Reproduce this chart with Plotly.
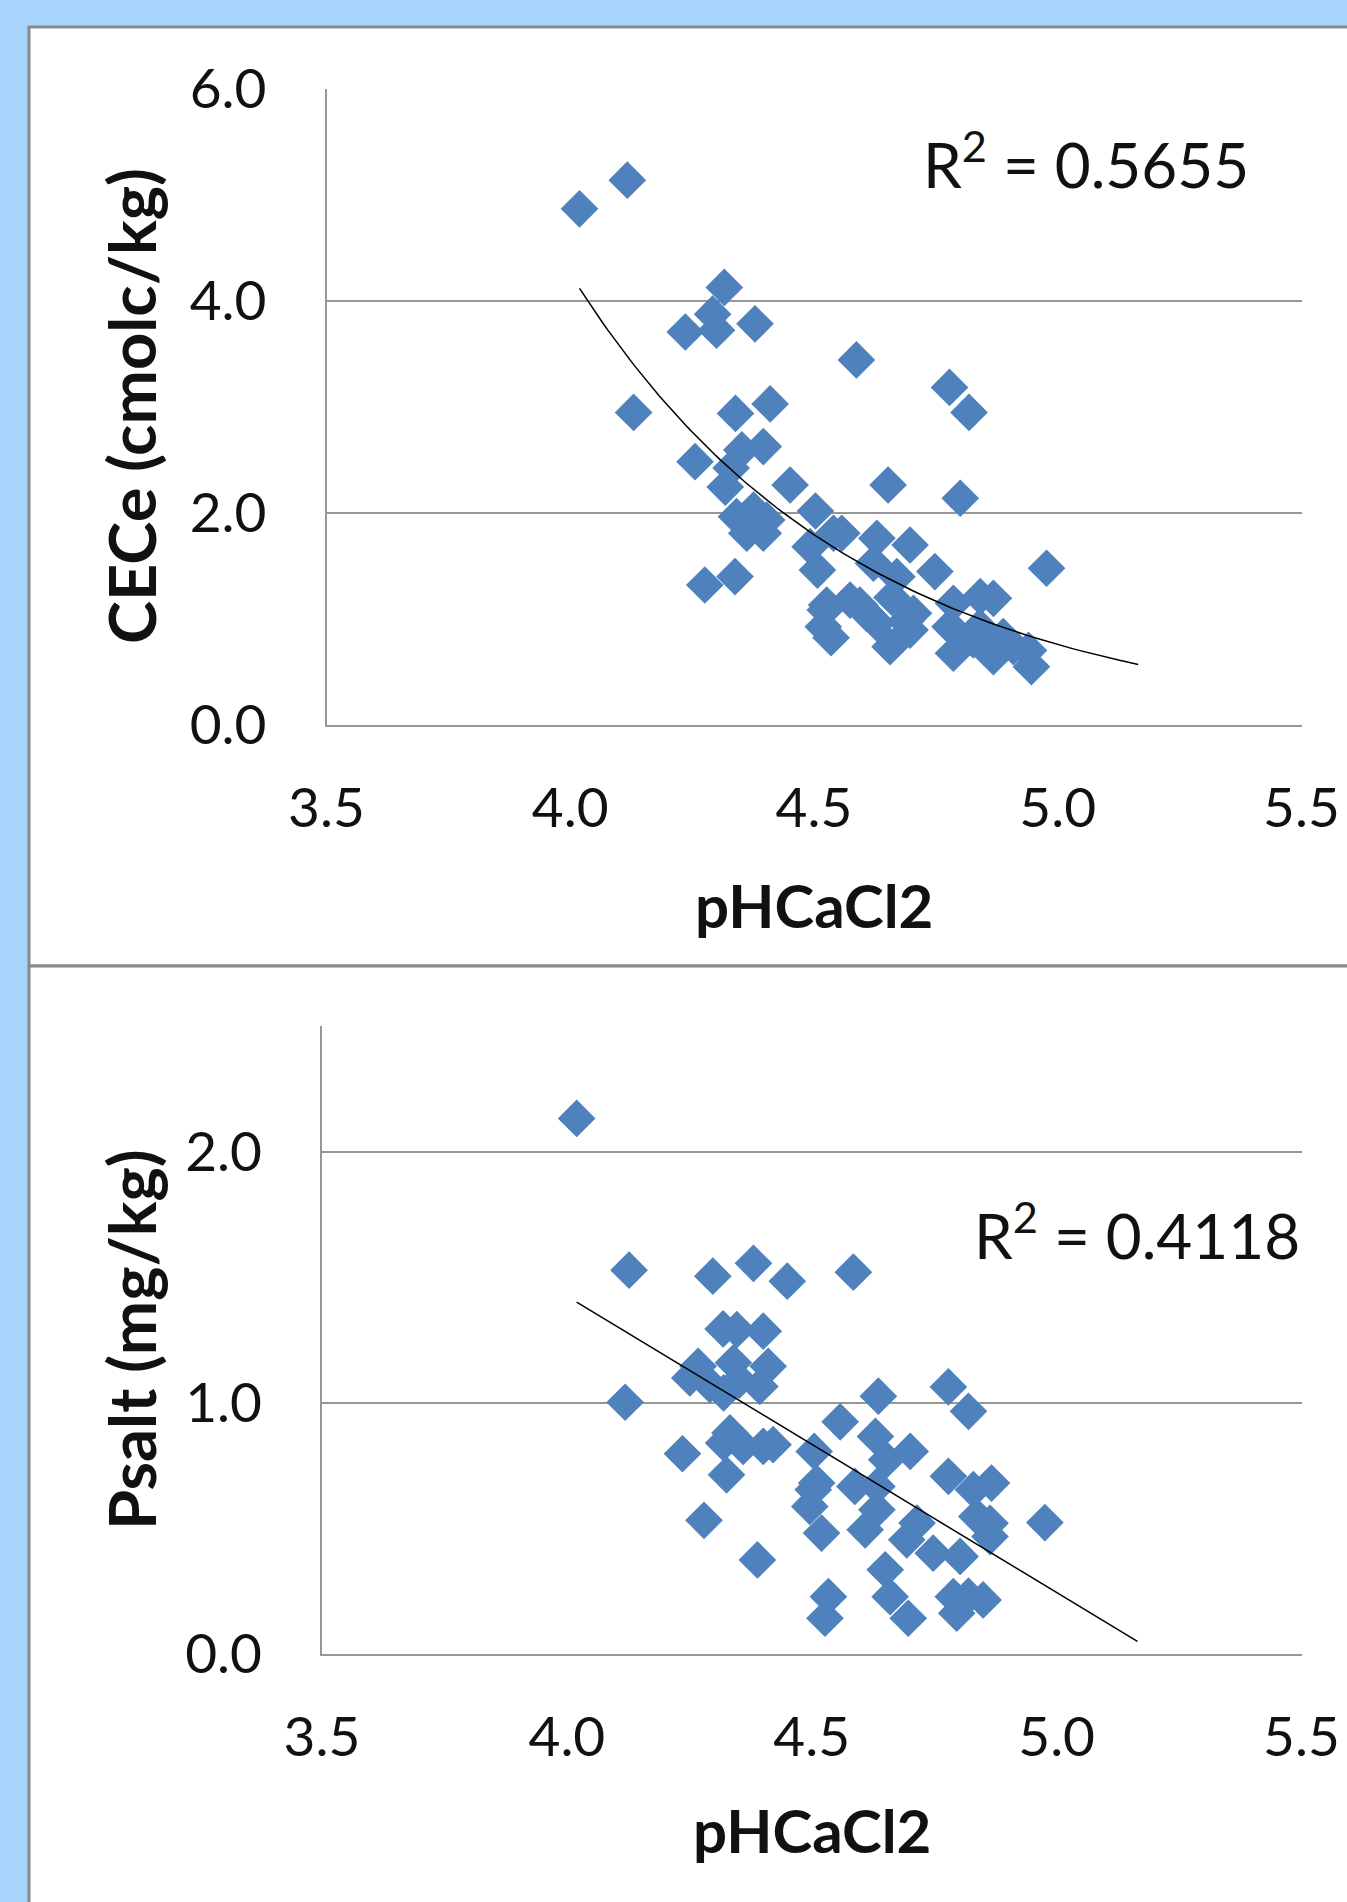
import numpy as np
import plotly.graph_objects as go

# ---------------- data ----------------
cec_ph = [4.019, 4.117, 4.316, 4.292, 4.236, 4.300, 4.379, 4.587, 4.778, 4.818,
          4.130, 4.339, 4.410, 4.256, 4.352, 4.396, 4.318, 4.330, 4.451, 4.341,
          4.376, 4.403, 4.362, 4.396, 4.503, 4.540, 4.492, 4.507, 4.276, 4.338,
          4.526, 4.574, 4.519, 4.535, 4.608, 4.652, 4.800, 4.557, 4.629, 4.697,
          4.622, 4.670, 4.748, 4.977, 4.523, 4.594, 4.629, 4.656, 4.704, 4.697,
          4.660, 4.786, 4.841, 4.868, 4.786, 4.827, 4.868, 4.909, 4.946, 4.940,
          4.779, 4.840, 4.888, 4.688]
cec_val = [4.865, 5.135, 4.124, 3.871, 3.703, 3.720, 3.780, 3.440, 3.180, 2.945,
           2.945, 2.935, 3.025, 2.480, 2.591, 2.622, 2.240, 2.420, 2.260, 1.961,
           2.024, 1.930, 1.805, 1.805, 2.015, 1.805, 1.678, 1.458, 1.317, 1.396,
           1.128, 1.175, 0.924, 0.820, 1.050, 2.260, 2.135, 1.805, 1.757, 1.694,
           1.522, 1.395, 1.443, 1.475, 1.081, 1.128, 0.956, 0.735, 1.050, 0.892,
           1.200, 1.144, 1.207, 1.191, 0.673, 0.798, 0.641, 0.735, 0.546, 0.700,
           0.924, 0.920, 0.829, 0.974]

psalt_ph = [4.020, 4.127, 4.298, 4.381, 4.450, 4.585, 4.119, 4.319, 4.347, 4.401,
            4.268, 4.251, 4.292, 4.340, 4.352, 4.411, 4.394, 4.320, 4.333, 4.360,
            4.320, 4.401, 4.421, 4.236, 4.326, 4.558, 4.505, 4.510, 4.636, 4.779,
            4.820, 4.630, 4.653, 4.701, 4.779, 4.830, 4.867, 4.503, 4.496, 4.520,
            4.588, 4.633, 4.609, 4.633, 4.694, 4.715, 4.748, 4.803, 4.837, 4.864,
            4.864, 4.976, 4.650, 4.660, 4.534, 4.527, 4.697, 4.789, 4.796, 4.850,
            4.820, 4.389, 4.280]
psalt_val = [2.132, 1.528, 1.504, 1.555, 1.484, 1.520, 1.002, 1.294, 1.291, 1.285,
             1.145, 1.099, 1.072, 1.159, 1.090, 1.145, 1.065, 1.039, 0.880, 0.826,
             0.840, 0.826, 0.833, 0.797, 0.713, 0.924, 0.806, 0.680, 1.026, 1.063,
             0.966, 0.866, 0.773, 0.806, 0.707, 0.654, 0.680, 0.654, 0.587, 0.481,
             0.667, 0.667, 0.494, 0.574, 0.454, 0.521, 0.401, 0.388, 0.547, 0.467,
             0.520, 0.523, 0.335, 0.228, 0.228, 0.142, 0.142, 0.228, 0.162, 0.215,
             0.230, 0.374, 0.532]

x_ticks = [3.5, 4.0, 4.5, 5.0, 5.5]
cec_ticks = [0.0, 2.0, 4.0, 6.0]
psalt_ticks = [0.0, 1.0, 2.0]
trend_end = 5.165          # trendline drawn forward to this pH
r2_labels = ["R<sup>2</sup> = 0.5655", "R<sup>2</sup> = 0.4118"]
x_title = "pHCaCl2"
y_titles = ["CECe (cmolc/kg)", "Psalt (mg/kg)"]

# ---------------- trendlines (fitted, as the spreadsheet does) ----------------
cx = np.array(cec_ph); cy = np.array(cec_val)
b, ln_a = np.polyfit(cx, np.log(cy), 1)
tx1 = np.linspace(cx.min(), trend_end, 120)
ty1 = np.exp(ln_a) * np.exp(b * tx1)

px_ = np.array(psalt_ph); py_ = np.array(psalt_val)
m, c = np.polyfit(px_, py_, 1)
tx2 = np.array([px_.min(), trend_end])
ty2 = m * tx2 + c

# ---------------- figure ----------------
W, H = 1347, 1902
def px(x): return x / W
def py(y): return 1 - y / H

BLUE = "#4F81BD"
GRID = "#979797"
FONT = "Lato"
TXT = "#111111"

fig = go.Figure()
fig.add_trace(go.Scatter(x=cec_ph, y=cec_val, mode="markers",
                         marker=dict(symbol="diamond", size=29, color=BLUE, line=dict(width=0)),
                         xaxis="x", yaxis="y", showlegend=False))
fig.add_trace(go.Scatter(x=tx1, y=ty1, mode="lines", line=dict(color="black", width=1.5),
                         xaxis="x", yaxis="y", showlegend=False))
fig.add_trace(go.Scatter(x=psalt_ph, y=psalt_val, mode="markers",
                         marker=dict(symbol="diamond", size=29, color=BLUE, line=dict(width=0)),
                         xaxis="x2", yaxis="y2", showlegend=False))
fig.add_trace(go.Scatter(x=tx2, y=ty2, mode="lines", line=dict(color="black", width=1.5),
                         xaxis="x2", yaxis="y2", showlegend=False))

tickfont = dict(family=FONT, size=55, color=TXT)
xcommon = dict(range=[3.5, 5.5], tickvals=x_ticks, ticktext=[f"{v:.1f}" for v in x_ticks],
               showgrid=False, zeroline=False, showline=True, linecolor=GRID, linewidth=2,
               ticks="", tickfont=tickfont, ticklabelstandoff=34, automargin=False)
ycommon = dict(showgrid=True, gridcolor=GRID, gridwidth=2, zeroline=False, showline=True,
               linecolor=GRID, linewidth=2, ticks="", tickfont=tickfont, ticklabelstandoff=47,
               automargin=False)

fig.update_layout(
    width=W, height=H, autosize=False,
    margin=dict(l=0, r=0, t=0, b=0, pad=0, autoexpand=False),
    paper_bgcolor="#A7D4FD", plot_bgcolor="rgba(0,0,0,0)",
    xaxis=dict(domain=[px(326.5), px(1301.5)], anchor="y", **xcommon),
    yaxis=dict(domain=[py(724.6), py(88.5)], anchor="x", range=[0, 6], tickvals=cec_ticks,
               ticktext=[f"{v:.1f}" for v in cec_ticks], **ycommon),
    xaxis2=dict(domain=[px(322), px(1301.5)], anchor="y2", **xcommon),
    yaxis2=dict(domain=[py(1653.9), py(1026)], anchor="x2", range=[0, 2.5], tickvals=psalt_ticks,
                ticktext=[f"{v:.1f}" for v in psalt_ticks], **ycommon),
)

# panels
fig.add_shape(type="rect", xref="paper", yref="paper", x0=px(29), x1=1.02, y0=py(966), y1=py(27),
              fillcolor="white", line=dict(color="#8A8A8A", width=3), layer="below")
fig.add_shape(type="rect", xref="paper", yref="paper", x0=px(29), x1=1.02, y0=-0.02, y1=py(966),
              fillcolor="white", line=dict(color="#8A8A8A", width=3), layer="below")

# titles
tfont = dict(family=FONT, size=60, color=TXT)
yfont = dict(family=FONT, size=65, color=TXT)
fig.add_annotation(text=f"<b>{x_title}</b>", xref="paper", yref="paper", x=px(814), y=py(905),
                   showarrow=False, font=tfont, xanchor="center", yanchor="middle")
fig.add_annotation(text=f"<b>{x_title}</b>", xref="paper", yref="paper", x=px(812), y=py(1830),
                   showarrow=False, font=tfont, xanchor="center", yanchor="middle")
fig.add_annotation(text=f"<b>{y_titles[0]}</b>", xref="paper", yref="paper", x=px(131), y=py(406),
                   showarrow=False, font=yfont, textangle=-90, xanchor="center", yanchor="middle")
fig.add_annotation(text=f"<b>{y_titles[1]}</b>", xref="paper", yref="paper", x=px(131), y=py(1340),
                   showarrow=False, font=yfont, textangle=-90, xanchor="center", yanchor="middle")

# R² labels
rfont = dict(family=FONT, size=62, color=TXT)
fig.add_annotation(text=r2_labels[0], xref="paper", yref="paper", x=px(1086), y=py(160),
                   showarrow=False, font=rfont, xanchor="center", yanchor="middle")
fig.add_annotation(text=r2_labels[1], xref="paper", yref="paper", x=px(1302), y=py(1231),
                   showarrow=False, font=rfont, xanchor="right", yanchor="middle")

fig.write_html("out.html", config={"displayModeBar": False},
               post_script="document.body.style.margin='0';")
